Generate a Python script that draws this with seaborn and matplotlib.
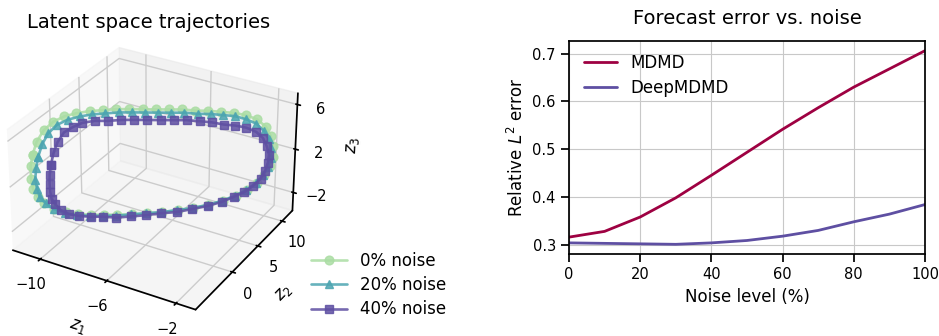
import matplotlib
matplotlib.use("Agg")
import matplotlib.pyplot as plt
import pandas as pd
import seaborn as sns

# ---------------- data ----------------
noise_level = [0, 10, 20, 30, 40, 50, 60, 70, 80, 90, 100]
mdmd_error = [0.317, 0.329, 0.359, 0.399, 0.446, 0.494, 0.542, 0.587, 0.630, 0.668, 0.706]
deepmdmd_error = [0.305, 0.304, 0.303, 0.302, 0.305, 0.310, 0.319, 0.331, 0.349, 0.365, 0.385]

series_labels = ["0% noise", "20% noise", "40% noise"]

z1_noise0 = [-11.00, -10.80, -10.49, -10.10, -9.67, -9.20, -8.69, -8.19, -7.67, -7.17, -6.66, -6.14,
             -5.64, -5.13, -4.62, -4.11, -3.60, -3.10, -2.62, -2.19, -1.84, -1.65, -1.57, -1.57,
             -1.68, -1.92, -2.23, -2.62, -3.10, -3.64, -4.22, -4.85, -5.48, -6.11, -6.74, -7.32,
             -7.91, -8.45, -8.97, -9.48, -9.94, -10.37, -10.73, -10.97, -11.12, -11.16, -11.12, -11.00]
z2_noise0 = [-4.79, -4.61, -4.23, -3.70, -3.08, -2.38, -1.60, -0.82, -0.03, 0.77, 1.56, 2.35,
             3.14, 3.94, 4.74, 5.53, 6.33, 7.14, 7.89, 8.60, 9.21, 9.61, 9.83, 9.93,
             9.83, 9.56, 9.14, 8.60, 7.94, 7.13, 6.25, 5.31, 4.34, 3.39, 2.42, 1.52,
             0.60, -0.25, -1.04, -1.85, -2.60, -3.30, -3.91, -4.34, -4.66, -4.81, -4.88, -4.79]
z3_noise0 = [4.31, 5.43, 6.41, 7.09, 7.47, 7.66, 7.73, 7.71, 7.69, 7.58, 7.46, 7.35,
             7.23, 7.12, 6.91, 6.79, 6.58, 6.37, 6.07, 5.59, 4.84, 3.93, 2.95, 1.99,
             1.15, 0.34, -0.36, -0.94, -1.41, -1.77, -2.02, -2.17, -2.22, -2.27, -2.22, -2.19,
             -2.06, -1.93, -1.82, -1.61, -1.31, -0.92, -0.26, 0.37, 1.17, 2.14, 3.28, 4.31]

z1_noise20 = [-10.80, -10.59, -10.33, -9.98, -9.55, -9.08, -8.61, -8.11, -7.59, -7.09, -6.58, -6.06,
              -5.56, -5.05, -4.54, -4.03, -3.52, -3.06, -2.62, -2.23, -1.92, -1.73, -1.65, -1.65,
              -1.76, -1.96, -2.27, -2.66, -3.14, -3.68, -4.26, -4.89, -5.52, -6.15, -6.78, -7.36,
              -7.95, -8.49, -9.01, -9.52, -9.98, -10.37, -10.69, -10.89, -10.96, -11.00, -10.92, -10.80]
z2_noise20 = [-4.45, -4.27, -3.95, -3.48, -2.86, -2.16, -1.44, -0.66, 0.13, 0.93, 1.72, 2.51,
              3.30, 4.10, 4.90, 5.69, 6.49, 7.23, 7.93, 8.58, 9.12, 9.51, 9.72, 9.81,
              9.71, 9.50, 9.08, 8.54, 7.88, 7.07, 6.19, 5.25, 4.28, 3.33, 2.36, 1.46,
              0.55, -0.30, -1.09, -1.90, -2.65, -3.30, -3.85, -4.21, -4.40, -4.54, -4.54, -4.45]
z3_noise20 = [4.07, 5.19, 6.09, 6.77, 7.15, 7.34, 7.42, 7.40, 7.38, 7.27, 7.15, 7.04,
              6.92, 6.81, 6.60, 6.48, 6.27, 6.07, 5.69, 5.22, 4.47, 3.66, 2.78, 1.91,
              1.07, 0.35, -0.35, -0.93, -1.40, -1.76, -2.01, -2.16, -2.21, -2.26, -2.21, -2.18,
              -2.15, -2.02, -1.91, -1.70, -1.40, -0.92, -0.27, 0.35, 1.14, 2.01, 3.04, 4.07]

z1_noise40 = [-10.34, -10.19, -10.00, -9.73, -9.38, -9.00, -8.53, -8.03, -7.51, -7.01, -6.50, -5.98,
              -5.48, -4.97, -4.46, -3.99, -3.52, -3.06, -2.62, -2.23, -1.96, -1.81, -1.73, -1.78,
              -1.89, -2.08, -2.39, -2.74, -3.18, -3.68, -4.26, -4.89, -5.52, -6.15, -6.78, -7.36,
              -7.95, -8.49, -8.97, -9.44, -9.82, -10.12, -10.32, -10.44, -10.46, -10.46, -10.42, -10.34]
z2_noise40 = [-3.67, -3.55, -3.36, -3.03, -2.54, -1.97, -1.26, -0.47, 0.32, 1.12, 1.91, 2.70,
              3.49, 4.29, 5.09, 5.83, 6.58, 7.32, 8.01, 8.65, 9.13, 9.45, 9.65, 9.67,
              9.56, 9.34, 8.91, 8.43, 7.82, 7.08, 6.20, 5.26, 4.30, 3.34, 2.38, 1.48,
              0.57, -0.29, -1.02, -1.77, -2.39, -2.91, -3.26, -3.49, -3.61, -3.68, -3.72, -3.67]
z3_noise40 = [3.21, 4.34, 5.25, 6.05, 6.45, 6.75, 6.83, 6.71, 6.69, 6.58, 6.46, 6.35,
              6.23, 6.12, 5.91, 5.71, 5.41, 5.21, 4.92, 4.45, 3.81, 3.00, 2.22, 1.46,
              0.71, -0.01, -0.61, -1.11, -1.49, -1.86, -2.11, -2.26, -2.40, -2.36, -2.40, -2.37,
              -2.34, -2.11, -2.01, -1.81, -1.53, -1.07, -0.45, 0.06, 0.74, 1.51, 2.36, 3.21]

z1_ticks = [-10, -6, -2]
z2_ticks = [0, 5, 10]
z3_ticks = [-2, 2, 6]

# ---------------- style ----------------
sns.set_theme(style="ticks")
plt.rcParams["font.family"] = ["DejaVu Sans"]
plt.rcParams["axes.edgecolor"] = "black"
plt.rcParams["xtick.color"] = "black"
plt.rcParams["ytick.color"] = "black"
plt.rcParams["axes.labelcolor"] = "black"
plt.rcParams["text.color"] = "black"

traj_colors = ["#abdda4", "#4ca5b1", "#5e4fa2"]
traj_markers = ["o", "^", "s"]
method_colors = ["#9e0142", "#5e4fa2"]

fig = plt.figure(figsize=(9.39, 3.36), dpi=100)

# ---------------- 3D panel ----------------
side = 316
ax3 = fig.add_axes([(151 - side / 2) / 939, 2 / 336, side / 939, side / 336],
                   projection="3d", computed_zorder=False)
ax3.set_box_aspect((4, 4, 2.63))
trajs = [(z1_noise0, z2_noise0, z3_noise0),
         (z1_noise20, z2_noise20, z3_noise20),
         (z1_noise40, z2_noise40, z3_noise40)]
for (a, b, c), col, mk, lab in zip(trajs, traj_colors, traj_markers, series_labels):
    ax3.plot(a, b, c, color=col, marker=mk, markersize=6.3, lw=1.9, alpha=0.85, label=lab)

ax3.set_xlim(-11.7, -0.9)
ax3.set_ylim(-6.8, 12.2)
ax3.set_zlim(-3.7, 7.0)
ax3.set_xticks(z1_ticks)
ax3.set_yticks(z2_ticks)
ax3.set_zticks(z3_ticks)
ax3.tick_params(labelsize=10.5, pad=2)
ax3.set_xlabel("$z_1$", fontsize=12, labelpad=4)
ax3.set_ylabel("$z_2$", fontsize=12, labelpad=3)
ax3.set_zlabel("$z_3$", fontsize=12, labelpad=4)
fig.text(149 / 939, 1 - 22 / 336, "Latent space trajectories", fontsize=14,
         ha="center", va="center")
fig.legend(*ax3.get_legend_handles_labels(), loc="upper left",
           bbox_to_anchor=(304 / 939, 1 - 245 / 336), frameon=False,
           fontsize=12, borderaxespad=0, handlelength=2.15, labelspacing=0.38)

# ---------------- 2D panel ----------------
ax = fig.add_axes([569 / 939, (336 - 254) / 336, 356 / 939, 213 / 336])
df = pd.DataFrame({
    "Noise level (%)": noise_level * 2,
    "error": mdmd_error + deepmdmd_error,
    "method": ["MDMD"] * len(noise_level) + ["DeepMDMD"] * len(noise_level),
})
sns.lineplot(data=df, x="Noise level (%)", y="error", hue="method",
             palette=method_colors, lw=2, ax=ax)
ax.set_xlim(0, 100)
ax.set_xticks([0, 20, 40, 60, 80, 100])
ax.set_yticks([0.3, 0.4, 0.5, 0.6, 0.7])
ax.grid(True, color="#c8c8c8", lw=0.8)
ax.tick_params(labelsize=10.5)
ax.set_xlabel("Noise level (%)", fontsize=12)
ax.set_ylabel("Relative $L^2$ error", fontsize=12)
ax.set_title("Forecast error vs. noise", fontsize=14, pad=12)
ax.legend(title=None, frameon=False, fontsize=12, loc="upper left",
          bbox_to_anchor=(0.0, 1 + 2 / 213), labelspacing=0.44)
for s in ax.spines.values():
    s.set_color("black")

fig.savefig("out.png", dpi=100)
